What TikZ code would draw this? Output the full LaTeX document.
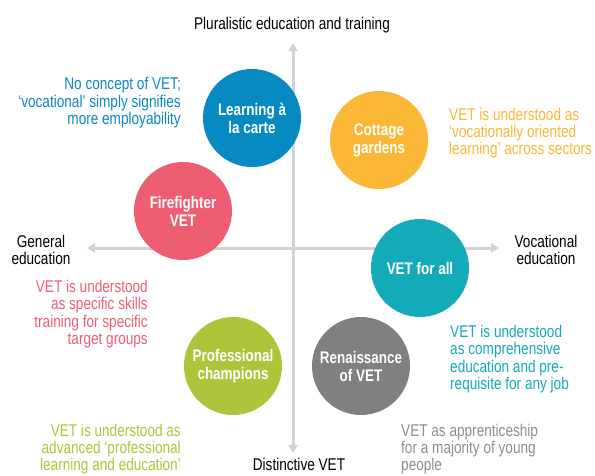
\documentclass[tikz,border=0pt]{standalone}
\usepackage{fontspec}
\setmainfont[FakeStretch=0.8]{Liberation Sans}
\usetikzlibrary{arrows.meta}
\definecolor{cblue}{HTML}{0789C1}
\definecolor{corange}{HTML}{FBB736}
\definecolor{cpink}{HTML}{EE5E73}
\definecolor{cteal}{HTML}{13ABB9}
\definecolor{cgray}{HTML}{808080}
\definecolor{cgreen}{HTML}{AFC43A}
\definecolor{caxis}{HTML}{D2D2D2}
\definecolor{tgray}{HTML}{8E8E8E}
\tikzset{
  bub/.style={circle, minimum size=98pt, inner sep=0pt, fill=#1, text=white,
    font=\fontsize{16.8}{18}\selectfont\bfseries, align=center},
  desc/.style={inner sep=0pt, text=#1, font=\fontsize{17}{17.4}\selectfont},
  axlab/.style={inner sep=0pt, text=black, font=\fontsize{17}{17.4}\selectfont, align=center},
  axis/.style={draw=caxis, line width=3pt, {Triangle[length=8pt,width=9pt]}-{Triangle[length=8pt,width=9pt]}}
}
\begin{document}
\begin{tikzpicture}[x=1pt,y=-1pt]
\useasboundingbox (0,0) rectangle (595,475);
\coordinate (top) at (293,43);
\coordinate (bot) at (293,453);
\coordinate (lft) at (87,248);
\coordinate (rgt) at (499,248);
\draw[axis] (bot) -- (top);
\draw[axis] (lft) -- (rgt);

\node[bub=cblue] (alc) at (252,118) {Learning à\\la carte};
\node[bub=corange] (cg) at (379,140) {Cottage\\gardens};
\node[bub=cpink] (ff) at (183,211) {Firefighter\\VET};
\node[bub=cteal] (all) at (420,268) {VET for all};
\node[bub=cgray] (ren) at (361,366) {Renaissance\\of VET};
\node[bub=cgreen] (pro) at (233,366) {Professional\\champions};

\node[axlab] (tl) at (292,25) {Pluralistic education and training};
\node[axlab] (bl) at (299,464) {Distinctive VET};
\node[axlab] (ll) at (41,250) {General\\education};
\node[axlab] (rl) at (546,250) {Vocational\\education};

\node[desc=cblue, align=right, anchor=east] (d1) at (181,103) {No concept of VET;\\‘vocational’ simply signifies\\more employability};
\node[desc=corange, align=left, anchor=west] (d2) at (449,133) {VET is understood as\\‘vocationally oriented\\learning’ across sectors};
\node[desc=cpink, align=right, anchor=east] (d3) at (148,314) {VET is understood\\as specific skills\\training for specific\\target groups};
\node[desc=cteal, align=left, anchor=west] (d4) at (450,359) {VET is understood\\as comprehensive\\education and pre-\\requisite for any job};
\node[desc=cgreen, align=right, anchor=east] (d5) at (181,449) {VET is understood as\\advanced ‘professional\\learning and education’};
\node[desc=tgray, align=left, anchor=west] (d6) at (401,449) {VET as apprenticeship\\for a majority of young\\people};
\end{tikzpicture}
\end{document}
